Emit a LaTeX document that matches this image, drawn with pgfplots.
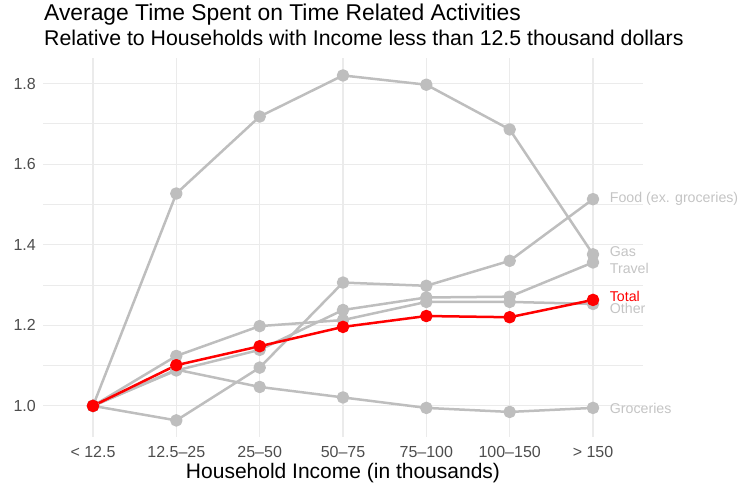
\documentclass[border=0pt]{standalone}
\usepackage{pgfplots}
\pgfplotsset{compat=1.18}
\usepackage{fontspec}
\setmainfont{Liberation Sans}
\definecolor{lgray}{HTML}{BEBEBE}
\definecolor{gridc}{HTML}{EBEBEB}
\definecolor{tickc}{HTML}{4D4D4D}
\definecolor{lblc}{HTML}{C4C4C4}
\begin{document}
\begin{tikzpicture}
\useasboundingbox (0,0) rectangle (738bp,489bp);
\node[anchor=base west, inner sep=0pt] at (44bp,468.5bp) {\fontsize{22.85bp}{27bp}\selectfont Average Time Spent on Time Related Activities};
\node[anchor=base west, inner sep=0pt] at (44bp,443bp) {\fontsize{21.3bp}{25bp}\selectfont Relative to Households with Income less than 12.5 thousand dollars};
\begin{axis}[
  at={(43bp,52bp)}, anchor=south west,
  scale only axis, width=600bp, height=379bp,
  xmin=0.4, xmax=7.6, ymin=0.9228, ymax=1.8633,
  axis line style={draw=none},
  major tick length=0pt, minor tick length=0pt,
  xtick={1,2,3,4,5,6,7},
  xticklabels={{< 12.5},{12.5–25},{25–50},{50–75},{75–100},{100–150},{> 150}},
  ytick={1,1.2,1.4,1.6,1.8},
  minor ytick={1.1,1.3,1.5,1.7},
  grid=both,
  major grid style={draw=gridc, line width=1.1bp},
  minor grid style={draw=gridc, line width=0.6bp},
  /pgf/number format/assume math mode=true,
  yticklabel style={/pgf/number format/fixed, /pgf/number format/fixed zerofill, /pgf/number format/precision=1},
  tick label style={font=\fontsize{16bp}{19bp}\selectfont, text=tickc, inner sep=0pt},
  yticklabel style={anchor=east, xshift=-7bp},
  xticklabel style={anchor=base, yshift=-20bp},
  xlabel={Household Income (in thousands)},
  xlabel style={at={(axis description cs:0.5,0)}, anchor=base, yshift=-41bp, inner sep=0pt, font=\fontsize{21bp}{25bp}\selectfont},
  clip=false,
  every axis plot/.append style={line width=2.5bp, mark=*, mark size=5bp, line join=round},
]
\addplot[color=lgray, mark options={fill=lgray, draw=lgray}] coordinates {(1,1.000)(2,1.527)(3,1.718)(4,1.820)(5,1.797)(6,1.686)(7,1.376)};
\addplot[color=lgray, mark options={fill=lgray, draw=lgray}] coordinates {(1,1.000)(2,0.964)(3,1.095)(4,1.306)(5,1.298)(6,1.360)(7,1.513)};
\addplot[color=lgray, mark options={fill=lgray, draw=lgray}] coordinates {(1,1.000)(2,1.088)(3,1.139)(4,1.238)(5,1.269)(6,1.271)(7,1.356)};
\addplot[color=lgray, mark options={fill=lgray, draw=lgray}] coordinates {(1,1.000)(2,1.124)(3,1.198)(4,1.213)(5,1.258)(6,1.258)(7,1.253)};
\addplot[color=lgray, mark options={fill=lgray, draw=lgray}] coordinates {(1,1.000)(2,1.090)(3,1.047)(4,1.021)(5,0.995)(6,0.985)(7,0.995)};
\addplot[color=red, mark options={fill=red, draw=red}] coordinates {(1,1.000)(2,1.101)(3,1.148)(4,1.196)(5,1.223)(6,1.220)(7,1.263)};
\begin{scope}[every node/.style={anchor=west, inner sep=0pt, font=\fontsize{14.2bp}{17bp}\selectfont, text=lblc}]
\node at (axis cs:7.2,1.514) {Food (ex. groceries)};
\node at (axis cs:7.2,1.382) {Gas};
\node at (axis cs:7.2,1.342) {Travel};
\node[text=red] at (axis cs:7.2,1.272) {Total};
\node at (axis cs:7.2,1.241) {Other};
\node at (axis cs:7.2,0.993) {Groceries};
\end{scope}
\end{axis}
\end{tikzpicture}
\end{document}
